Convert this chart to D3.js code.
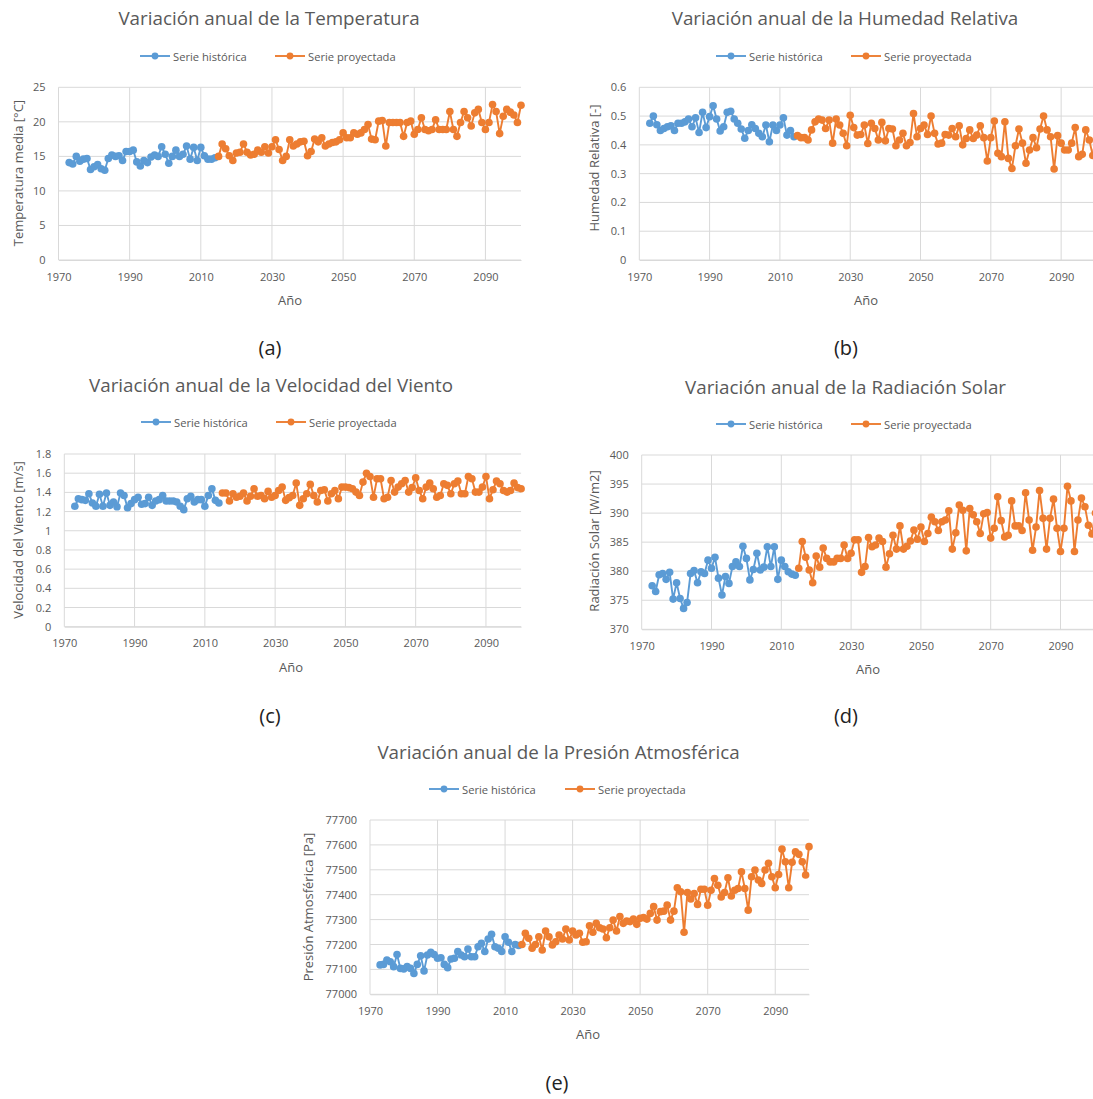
<!DOCTYPE html>
<html>
<head>
<meta charset="utf-8">
<script src="https://cdn.jsdelivr.net/npm/d3@7"></script>
<style>
  html, body { margin: 0; padding: 0; background: #fff; }
  svg { display: block; font-family: "Open Sans", "Noto Sans", sans-serif; }
</style>
</head>
<body>
<svg id="chart" width="1093" height="1099"></svg>
<script>
// Years of each series
const histYears = [1973,1974,1975,1976,1977,1978,1979,1980,1981,1982,1983,1984,1985,1986,1987,1988,1989,1990,1991,1992,1993,1994,1995,1996,1997,1998,1999,2000,2001,2002,2003,2004,2005,2006,2007,2008,2009,2010,2011,2012,2013,2014];
const projYears = [2015,2016,2017,2018,2019,2020,2021,2022,2023,2024,2025,2026,2027,2028,2029,2030,2031,2032,2033,2034,2035,2036,2037,2038,2039,2040,2041,2042,2043,2044,2045,2046,2047,2048,2049,2050,2051,2052,2053,2054,2055,2056,2057,2058,2059,2060,2061,2062,2063,2064,2065,2066,2067,2068,2069,2070,2071,2072,2073,2074,2075,2076,2077,2078,2079,2080,2081,2082,2083,2084,2085,2086,2087,2088,2089,2090,2091,2092,2093,2094,2095,2096,2097,2098,2099,2100];

// Temperatura media [°C]
const tempHist = [14.1,13.9,15.0,14.3,14.6,14.7,13.1,13.5,13.8,13.2,13.0,14.7,15.2,15.0,15.1,14.4,15.7,15.7,15.9,14.2,13.6,14.4,14.1,14.9,15.2,15.0,16.4,15.3,14.0,15.0,15.9,15.0,15.3,16.5,14.6,16.3,14.4,16.3,15.1,14.6,14.6,14.8];
const tempProj = [15.0,16.8,16.1,15.1,14.4,15.5,15.6,16.8,15.6,15.2,15.3,15.9,15.6,16.4,15.5,16.4,17.4,16.0,14.4,15.0,17.4,16.5,16.8,17.1,17.2,15.1,15.7,17.5,17.1,17.7,16.5,16.8,17.0,17.1,17.4,18.4,17.7,17.7,18.4,18.2,18.4,18.9,19.6,17.5,17.4,20.1,20.2,16.5,19.9,19.9,19.9,19.9,17.9,19.9,20.1,18.2,18.9,20.6,18.9,18.7,18.9,20.3,18.9,18.9,18.9,21.5,18.9,17.9,19.9,21.5,20.6,19.4,21.3,21.8,19.9,18.9,19.9,22.5,21.5,18.3,20.8,21.8,21.4,21.0,19.9,22.4];

// Humedad relativa [-]
const humHist = [0.475,0.50,0.47,0.45,0.457,0.463,0.466,0.45,0.475,0.475,0.48,0.49,0.463,0.494,0.443,0.513,0.46,0.498,0.536,0.49,0.448,0.463,0.513,0.517,0.49,0.475,0.455,0.423,0.45,0.47,0.457,0.44,0.428,0.469,0.411,0.469,0.45,0.469,0.494,0.434,0.45,0.428];
const humProj = [0.432,0.425,0.425,0.417,0.452,0.48,0.49,0.486,0.457,0.486,0.406,0.49,0.469,0.44,0.397,0.503,0.46,0.434,0.436,0.469,0.405,0.475,0.457,0.417,0.478,0.414,0.457,0.455,0.397,0.417,0.44,0.397,0.408,0.509,0.428,0.457,0.469,0.436,0.50,0.44,0.403,0.406,0.436,0.434,0.457,0.428,0.466,0.40,0.422,0.452,0.422,0.434,0.466,0.425,0.344,0.425,0.483,0.371,0.359,0.48,0.353,0.318,0.397,0.455,0.406,0.336,0.382,0.425,0.39,0.455,0.50,0.452,0.428,0.316,0.432,0.406,0.382,0.382,0.406,0.46,0.359,0.367,0.452,0.417,0.363,0.38];

// Velocidad del viento [m/s]
const windHist = [1.255,1.334,1.324,1.317,1.386,1.29,1.255,1.38,1.255,1.393,1.265,1.30,1.25,1.393,1.368,1.24,1.283,1.324,1.35,1.276,1.283,1.35,1.265,1.31,1.324,1.368,1.31,1.31,1.31,1.30,1.255,1.22,1.334,1.36,1.30,1.324,1.324,1.255,1.368,1.438,1.317,1.29];
const windProj = [1.393,1.393,1.31,1.386,1.35,1.36,1.393,1.31,1.36,1.438,1.36,1.368,1.334,1.41,1.35,1.368,1.42,1.455,1.317,1.345,1.368,1.497,1.265,1.334,1.386,1.483,1.368,1.30,1.42,1.428,1.31,1.386,1.42,1.334,1.455,1.455,1.45,1.438,1.403,1.368,1.507,1.60,1.566,1.35,1.542,1.542,1.334,1.35,1.524,1.403,1.455,1.49,1.524,1.403,1.45,1.552,1.42,1.334,1.455,1.497,1.438,1.35,1.368,1.49,1.473,1.386,1.49,1.518,1.386,1.386,1.566,1.542,1.403,1.403,1.455,1.566,1.334,1.428,1.518,1.49,1.42,1.403,1.42,1.497,1.45,1.438];

// Radiación solar [W/m2]
const radHist = [377.5,376.5,379.4,379.6,378.6,379.8,375.2,378.0,375.3,373.6,374.6,379.6,380.1,378.0,379.9,379.6,381.9,380.5,382.4,378.8,375.9,379.1,377.9,380.8,381.6,380.8,384.3,382.2,378.5,380.3,383.1,380.2,380.7,384.2,380.8,384.2,378.6,381.9,380.8,379.9,379.5,379.3];
const radProj = [380.5,385.1,382.4,380.2,378.0,382.6,380.7,384.0,382.2,381.6,381.6,382.2,382.2,384.5,382.2,383.1,385.4,385.4,379.8,380.8,385.8,384.2,384.5,385.7,385.1,380.7,383.0,386.2,383.8,387.8,383.8,384.3,385.2,387.1,385.5,387.6,385.1,386.5,389.3,388.5,387.0,388.5,388.8,390.4,383.8,386.6,391.4,390.5,383.5,390.8,389.7,388.5,386.5,389.9,390.1,385.7,387.4,392.8,388.7,385.9,386.2,392.1,387.8,387.8,387.0,393.5,388.8,383.6,387.6,393.9,389.1,383.8,389.1,392.4,387.4,383.4,387.4,394.6,392.1,383.4,388.8,392.6,391.1,387.9,386.4,390.0];

// Presión atmosférica [Pa]
const presHist = [77118,77120,77138,77131,77111,77160,77104,77102,77111,77104,77084,77120,77155,77094,77158,77169,77160,77145,77147,77120,77107,77142,77145,77172,77158,77151,77182,77151,77151,77191,77205,77172,77222,77241,77191,77185,77172,77231,77209,77172,77200,77196];
const presProj = [77200,77245,77225,77185,77200,77231,77178,77254,77231,77198,77211,77238,77222,77262,77218,77254,77238,77245,77209,77211,77275,77249,77285,77267,77262,77227,77267,77298,77254,77312,77285,77294,77292,77302,77281,77305,77308,77302,77325,77352,77298,77332,77334,77358,77298,77334,77428,77412,77249,77409,77383,77405,77361,77422,77422,77358,77418,77465,77438,77391,77409,77468,77395,77418,77425,77492,77425,77338,77472,77499,77459,77445,77499,77526,77472,77428,77481,77583,77532,77428,77530,77572,77562,77532,77479,77593];

// Axis ticks and labels
const yearTicks = [1970,1990,2010,2030,2050,2070,2090];
const tempTicks = [0,5,10,15,20,25];
const humTicks = [0,0.1,0.2,0.3,0.4,0.5,0.6];
const windTicks = [0,0.2,0.4,0.6,0.8,1,1.2,1.4,1.6,1.8];
const radTicks = [370,375,380,385,390,395,400];
const presTicks = [77000,77100,77200,77300,77400,77500,77600,77700];
const legendLabels = ["Serie histórica", "Serie proyectada"];

const BLUE = "#5B9BD5", ORANGE = "#ED7D31";
const GRID = "#d9d9d9", TXT = "#595959";

const svg = d3.select("#chart");
svg.append("rect").attr("width", 1093).attr("height", 1099).attr("fill", "#fff");

function panel(cfg) {
  const g = svg.append("g");
  const x = d3.scaleLinear().domain([1970, 2100]).range([cfg.left, cfg.right]);
  const y = d3.scaleLinear().domain([cfg.yTicks[0], cfg.yTicks[cfg.yTicks.length - 1]]).range([cfg.bottom, cfg.top]);

  // horizontal gridlines
  g.selectAll(".hg").data(cfg.yTicks).join("line")
    .attr("x1", cfg.left).attr("x2", cfg.right)
    .attr("y1", d => y(d)).attr("y2", d => y(d))
    .attr("stroke", GRID).attr("stroke-width", 1);
  // vertical gridlines
  g.selectAll(".vg").data(yearTicks).join("line")
    .attr("x1", d => x(d)).attr("x2", d => x(d))
    .attr("y1", cfg.top).attr("y2", cfg.bottom)
    .attr("stroke", GRID).attr("stroke-width", 1);

  // axes (labels only, Excel-like)
  const xAxis = d3.axisBottom(x).tickValues(yearTicks).tickFormat(d3.format("d")).tickSize(0).tickPadding(13);
  const xa = g.append("g").attr("transform", `translate(0,${cfg.bottom})`).call(xAxis);
  xa.select(".domain").attr("stroke", GRID);
  xa.selectAll("text").attr("fill", TXT).attr("font-size", 11).attr("font-family", "Open Sans");

  const yAxis = d3.axisLeft(y).tickValues(cfg.yTicks).tickFormat(cfg.fmt).tickSize(0).tickPadding(13);
  const ya = g.append("g").attr("transform", `translate(${cfg.left},0)`).call(yAxis);
  ya.select(".domain").remove();
  ya.selectAll("text").attr("fill", TXT).attr("font-size", 11).attr("font-family", "Open Sans");

  // series
  const line = d3.line().x(d => x(d[0])).y(d => y(d[1]));
  [[cfg.hist, histYears, BLUE], [cfg.proj, projYears, ORANGE]].forEach(([vals, yrs, col]) => {
    const pts = yrs.map((yr, i) => [yr, vals[i]]);
    g.append("path").datum(pts).attr("d", line)
      .attr("fill", "none").attr("stroke", col).attr("stroke-width", 1.9);
    g.selectAll(null).data(pts).join("circle")
      .attr("cx", d => x(d[0])).attr("cy", d => y(d[1])).attr("r", 3.8)
      .attr("fill", col);
  });

  // title
  g.append("text").attr("x", cfg.titleX).attr("y", cfg.titleY)
    .attr("text-anchor", "middle").attr("dominant-baseline", "central")
    .attr("fill", TXT).attr("font-size", 18.8).text(cfg.title);

  // legend
  [[BLUE, 0], [ORANGE, 1]].forEach(([col, i]) => {
    const lx = cfg.legX[i];
    g.append("line").attr("x1", lx).attr("x2", lx + 30)
      .attr("y1", cfg.legY).attr("y2", cfg.legY)
      .attr("stroke", col).attr("stroke-width", 1.9);
    g.append("circle").attr("cx", lx + 15).attr("cy", cfg.legY).attr("r", 3.4).attr("fill", col);
    g.append("text").attr("x", lx + 33).attr("y", cfg.legY)
      .attr("dominant-baseline", "central").attr("fill", TXT).attr("font-size", 11.2)
      .text(legendLabels[i]);
  });

  // axis titles
  g.append("text").attr("transform", `translate(${cfg.yTitleX},${cfg.yTitleY}) rotate(-90)`)
    .attr("text-anchor", "middle").attr("dominant-baseline", "central")
    .attr("fill", TXT).attr("font-size", 13).text(cfg.yTitle);
  g.append("text").attr("x", cfg.xTitleX).attr("y", cfg.xTitleY)
    .attr("text-anchor", "middle").attr("dominant-baseline", "central")
    .attr("fill", TXT).attr("font-size", 13).text("Año");

  // caption
  g.append("text").attr("x", cfg.capX).attr("y", cfg.capY)
    .attr("text-anchor", "middle").attr("dominant-baseline", "central")
    .attr("fill", "#222").attr("font-size", 20).text(cfg.caption);
}

const fmtInt = d3.format("d");
const fmtDec = d => d === 0 ? "0" : d3.format("~g")(d);

panel({
  left: 58.5, right: 521, top: 87.3, bottom: 260,
  yTicks: tempTicks, fmt: fmtInt, hist: tempHist, proj: tempProj,
  title: "Variación anual de la Temperatura", titleX: 269, titleY: 18,
  legX: [140, 275], legY: 56,
  yTitle: "Temperatura media [°C]", yTitleX: 18, yTitleY: 173,
  xTitleX: 290, xTitleY: 300, caption: "(a)", capX: 270, capY: 347
});
panel({
  left: 639.3, right: 1096.3, top: 87.3, bottom: 260,
  yTicks: humTicks, fmt: fmtDec, hist: humHist, proj: humProj,
  title: "Variación anual de la Humedad Relativa", titleX: 845, titleY: 18,
  legX: [716, 851], legY: 56,
  yTitle: "Humedad Relativa [-]", yTitleX: 594, yTitleY: 168,
  xTitleX: 866, xTitleY: 300, caption: "(b)", capX: 846, capY: 347
});
panel({
  left: 64.3, right: 521.1, top: 454, bottom: 626.7,
  yTicks: windTicks, fmt: fmtDec, hist: windHist, proj: windProj,
  title: "Variación anual de la Velocidad del Viento", titleX: 271, titleY: 385,
  legX: [141, 276], legY: 422,
  yTitle: "Velocidad del Viento [m/s]", yTitleX: 18, yTitleY: 540,
  xTitleX: 291, xTitleY: 667, caption: "(c)", capX: 270, capY: 715
});
panel({
  left: 641.7, right: 1095.4, top: 455, bottom: 629.3,
  yTicks: radTicks, fmt: fmtInt, hist: radHist, proj: radProj,
  title: "Variación anual de la Radiación Solar", titleX: 845.5, titleY: 387,
  legX: [716, 851], legY: 424,
  yTitle: "Radiación Solar [W/m2]", yTitleX: 594, yTitleY: 541,
  xTitleX: 868, xTitleY: 669, caption: "(d)", capX: 846, capY: 715
});
panel({
  left: 370, right: 809, top: 820, bottom: 994.3,
  yTicks: presTicks, fmt: fmtInt, hist: presHist, proj: presProj,
  title: "Variación anual de la Presión Atmosférica", titleX: 558.5, titleY: 752,
  legX: [429, 565], legY: 789,
  yTitle: "Presión Atmosférica [Pa]", yTitleX: 308, yTitleY: 907,
  xTitleX: 588, xTitleY: 1034, caption: "(e)", capX: 557, capY: 1082
});
</script>
</body>
</html>
